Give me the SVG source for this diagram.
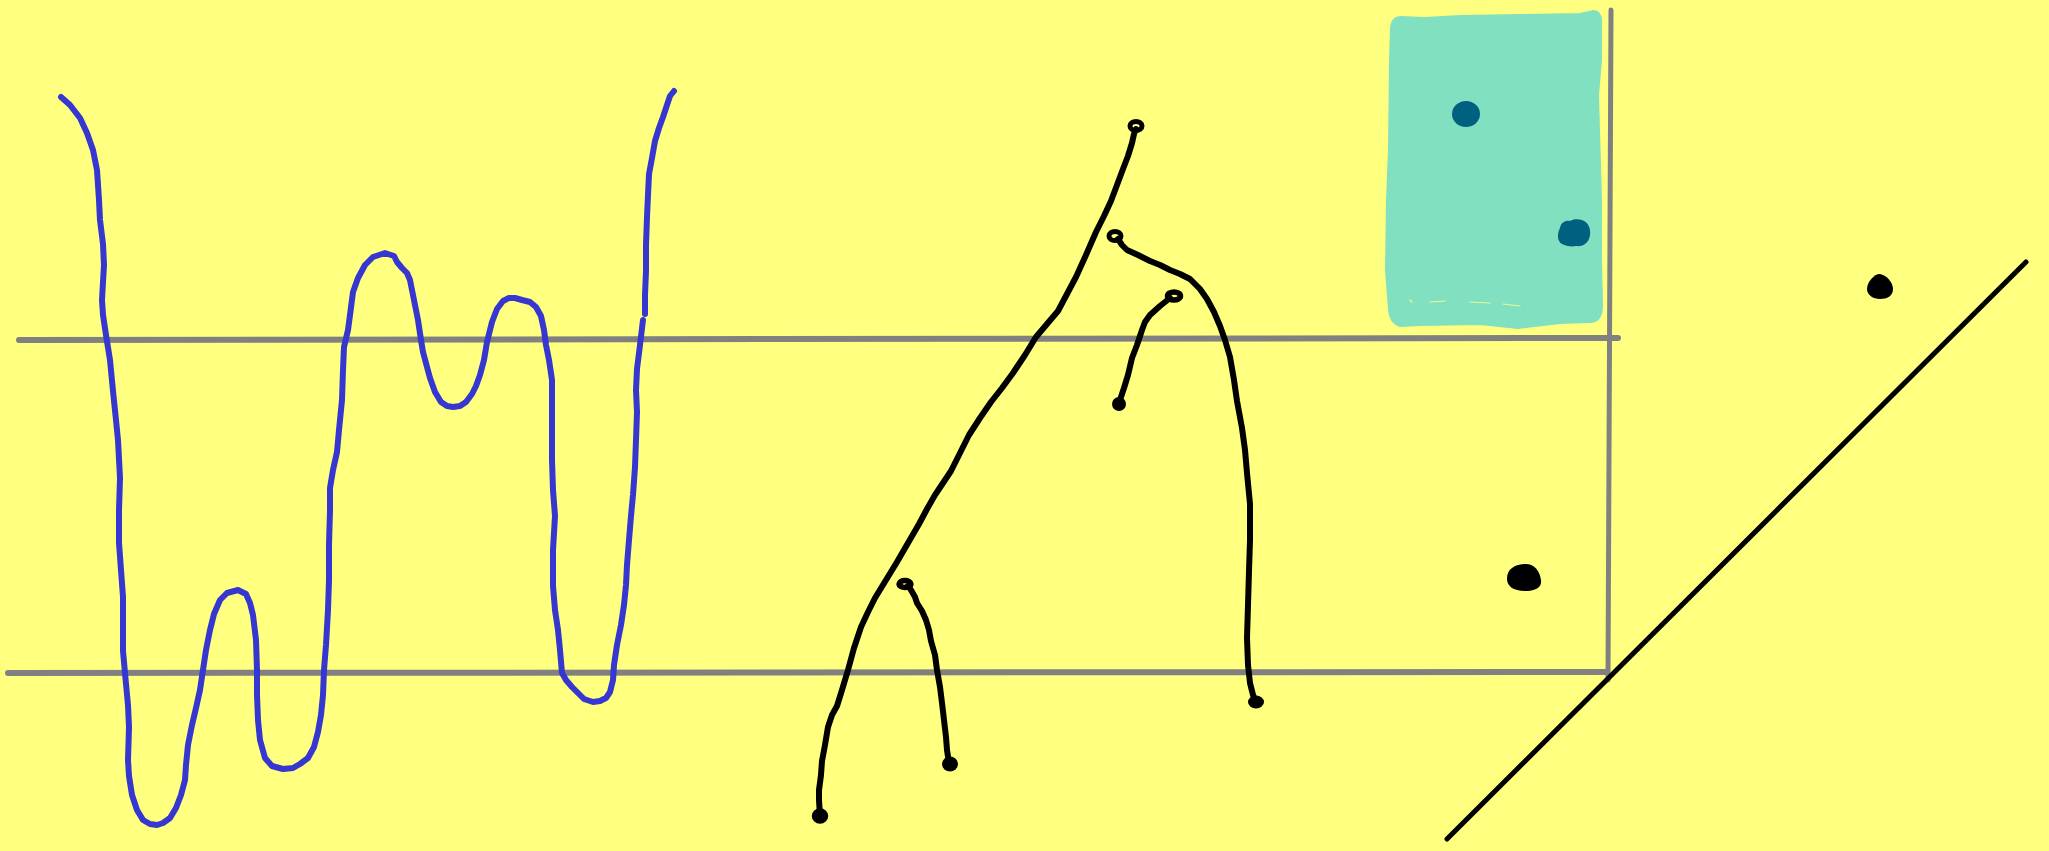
<svg xmlns="http://www.w3.org/2000/svg" width="2049" height="851" viewBox="0 0 2049 851">
<style>
.grid{fill:none;stroke:#808080;stroke-width:6;stroke-linecap:round;stroke-linejoin:round}
.wave{fill:none;stroke:#3636D0;stroke-width:6;stroke-linecap:round;stroke-linejoin:round}
.ink{fill:none;stroke:#000;stroke-width:6;stroke-linecap:round;stroke-linejoin:round}
.loop{fill:none;stroke:#000;stroke-width:5}
.blob{fill:#000}
.tealdot{fill:#006080}
</style>
<rect x="0" y="0" width="2049" height="851" fill="#FFFF80"/>
<g id="teal-box">
<path d="M1400,17 L1425,18 L1460,16 L1520,15 L1580,14 L1594,11 Q1602,12 1601,24 L1601,60 L1598,95 L1599,130 L1601,200 L1601,260 L1602,305 Q1602,322 1590,322 L1560,323 L1518,328 L1480,324 L1420,325 L1400,326 Q1390,323 1389,310 L1386,270 L1387,200 L1389,150 L1390,60 L1391,30 Q1391,18 1400,17 Z" fill="#80E0C0" stroke="#80E0C0" stroke-width="2" stroke-linejoin="round"/>
<path d="M1410,300 L1412,302 M1430,302 L1445,301 M1470,302 L1490,303 M1503,304 L1520,306" fill="none" stroke="#E8F8A0" stroke-width="1.2" stroke-linecap="round"/>
<ellipse class="tealdot" cx="1466" cy="114" rx="14" ry="13"/>
<path class="tealdot" d="M1560,228 C1561,222 1566,220 1570,221 C1573,219 1578,219 1582,220 C1588,222 1591,228 1590,235 C1589,243 1583,247 1576,246 C1571,247 1566,246 1562,244 C1557,241 1557,234 1560,228 Z"/>
</g>
<g id="guides">
<line class="grid" x1="19" y1="340" x2="1618" y2="338"/>
<line class="grid" x1="8" y1="673" x2="1607" y2="672"/>
<line class="grid" x1="1611" y1="10" x2="1608" y2="680" style="stroke-width:5"/>
</g>
<g id="wave">
<polyline class="wave" points="61,97 70,105 80,118 87,133 93,150 97,170 99,200 100,220 103,244 104,265 103,282 102,300 103,315 106,335 110,360 113,391 116,420 118,440 120,478 119,510 119,543 121,570 123,597 123,625 123,651 126,684 128,705 129,727 128,760 129,776 132,795 137,810 143,820 150,824 157,825 163,823 170,818 176,808 181,795 185,780 186,765 188,745 192,725 196,708 200,690 203,670 206,650 210,630 214,614 220,600 227,593 238,590 246,594 250,603 253,615 256,640 257,670 257,695 258,720 260,740 265,758 272,766 283,769 293,768 300,764 308,758 314,747 318,732 321,715 323,695 324,670 326,645 328,610 329,580 329,545 330,510 330,488 333,470 337,452 339,430 342,400 343,370 344,347 348,330 350,315 353,292 358,278 365,265 373,257 385,253 394,256 397,262 402,268 407,273 410,280 413,295 418,320 421,340 423,352 427,367 430,378 435,392 441,402 447,406 453,407 460,406 466,402 472,394 476,386 480,375 484,360 487,342 492,322 497,309 503,301 509,298 515,298 522,300 530,302 536,307 541,316 544,330 546,345 549,360 552,380 552,400 552,430 552,460 553,490 555,516 553,550 553,586 555,610 558,630 560,650 562,673 566,680 572,687 578,693 584,699 593,702 600,701 606,698 610,692 613,680 614,665 617,645 621,625 624,605 626,585 627,565 629,540 631,516 633,495 635,467 636,440 637,412 636,390 637,369 640,345 643,320"/>
<polyline class="wave" points="645,314 645,295 646,271 646,245 647,217 648,195 649,174 652,158 655,141 659,128 663,117 667,105 670,96 674,91"/>
</g>
<g id="tree">
<polyline class="ink" points="820,816 819,800 819,790 821,775 822,761 825,745 828,727 832,715 837,706 842,690 848,670 854,648 861,627 868,612 875,598 886,580 897,562 908,543 919,524 927,509 935,495 943,483 951,471 960,453 969,435 980,418 991,402 1002,388 1013,373 1025,355 1036,337 1047,324 1058,311 1067,294 1076,277 1086,255 1096,232 1104,216 1111,201 1117,185 1123,169 1128,156 1132,143 1134,134 1136,129"/>
<ellipse class="loop" cx="1136" cy="126" rx="6" ry="4.5"/>
<ellipse class="loop" cx="820" cy="816" rx="5.5" ry="5" style="stroke-width:5.5"/>
<polyline class="ink" points="908,586 911,590 915,597 917,603 922,611 926,620 929,630 931,641 935,655 937,670 940,687 942,703 944,720 946,737 947,750 949,763"/>
<ellipse class="loop" cx="905" cy="584" rx="6" ry="3.5" style="stroke-width:5.5"/>
<ellipse class="blob" cx="950" cy="764" rx="8" ry="7.5"/>
<polyline class="ink" points="1118,239 1122,245 1127,250 1138,255 1150,261 1160,265 1170,270 1180,274 1190,279 1200,289 1207,299 1214,312 1220,326 1225,340 1230,357 1234,380 1237,401 1242,428 1245,450 1247,473 1250,504 1250,540 1249,571 1248,605 1247,638 1248,665 1250,683 1253,695 1256,702"/>
<ellipse class="loop" cx="1115" cy="236" rx="6" ry="4.5"/>
<ellipse class="blob" cx="1256" cy="702" rx="8" ry="6.5"/>
<polyline class="ink" points="1170,298 1160,306 1150,315 1145,322 1142,330 1137,345 1132,358 1128,375 1124,388 1121,397 1119,404"/>
<ellipse class="loop" cx="1174" cy="296" rx="6.5" ry="4" style="stroke-width:5.5"/>
<ellipse class="blob" cx="1119" cy="404" rx="7" ry="7"/>
</g>
<g id="marks">
<path class="blob" d="M1880,274 C1886,275 1893,282 1893,289 C1893,296 1887,299 1880,299 C1873,299 1867,295 1867,289 C1867,282 1874,274 1880,274 Z"/>
<path class="blob" d="M1524,564 C1534,563 1540,571 1541,580 C1542,588 1535,591 1525,591 C1513,591 1507,586 1507,579 C1507,569 1514,565 1524,564 Z"/>
<line class="ink" x1="1447" y1="839" x2="2026" y2="262" style="stroke-width:5"/>
</g>
</svg>
